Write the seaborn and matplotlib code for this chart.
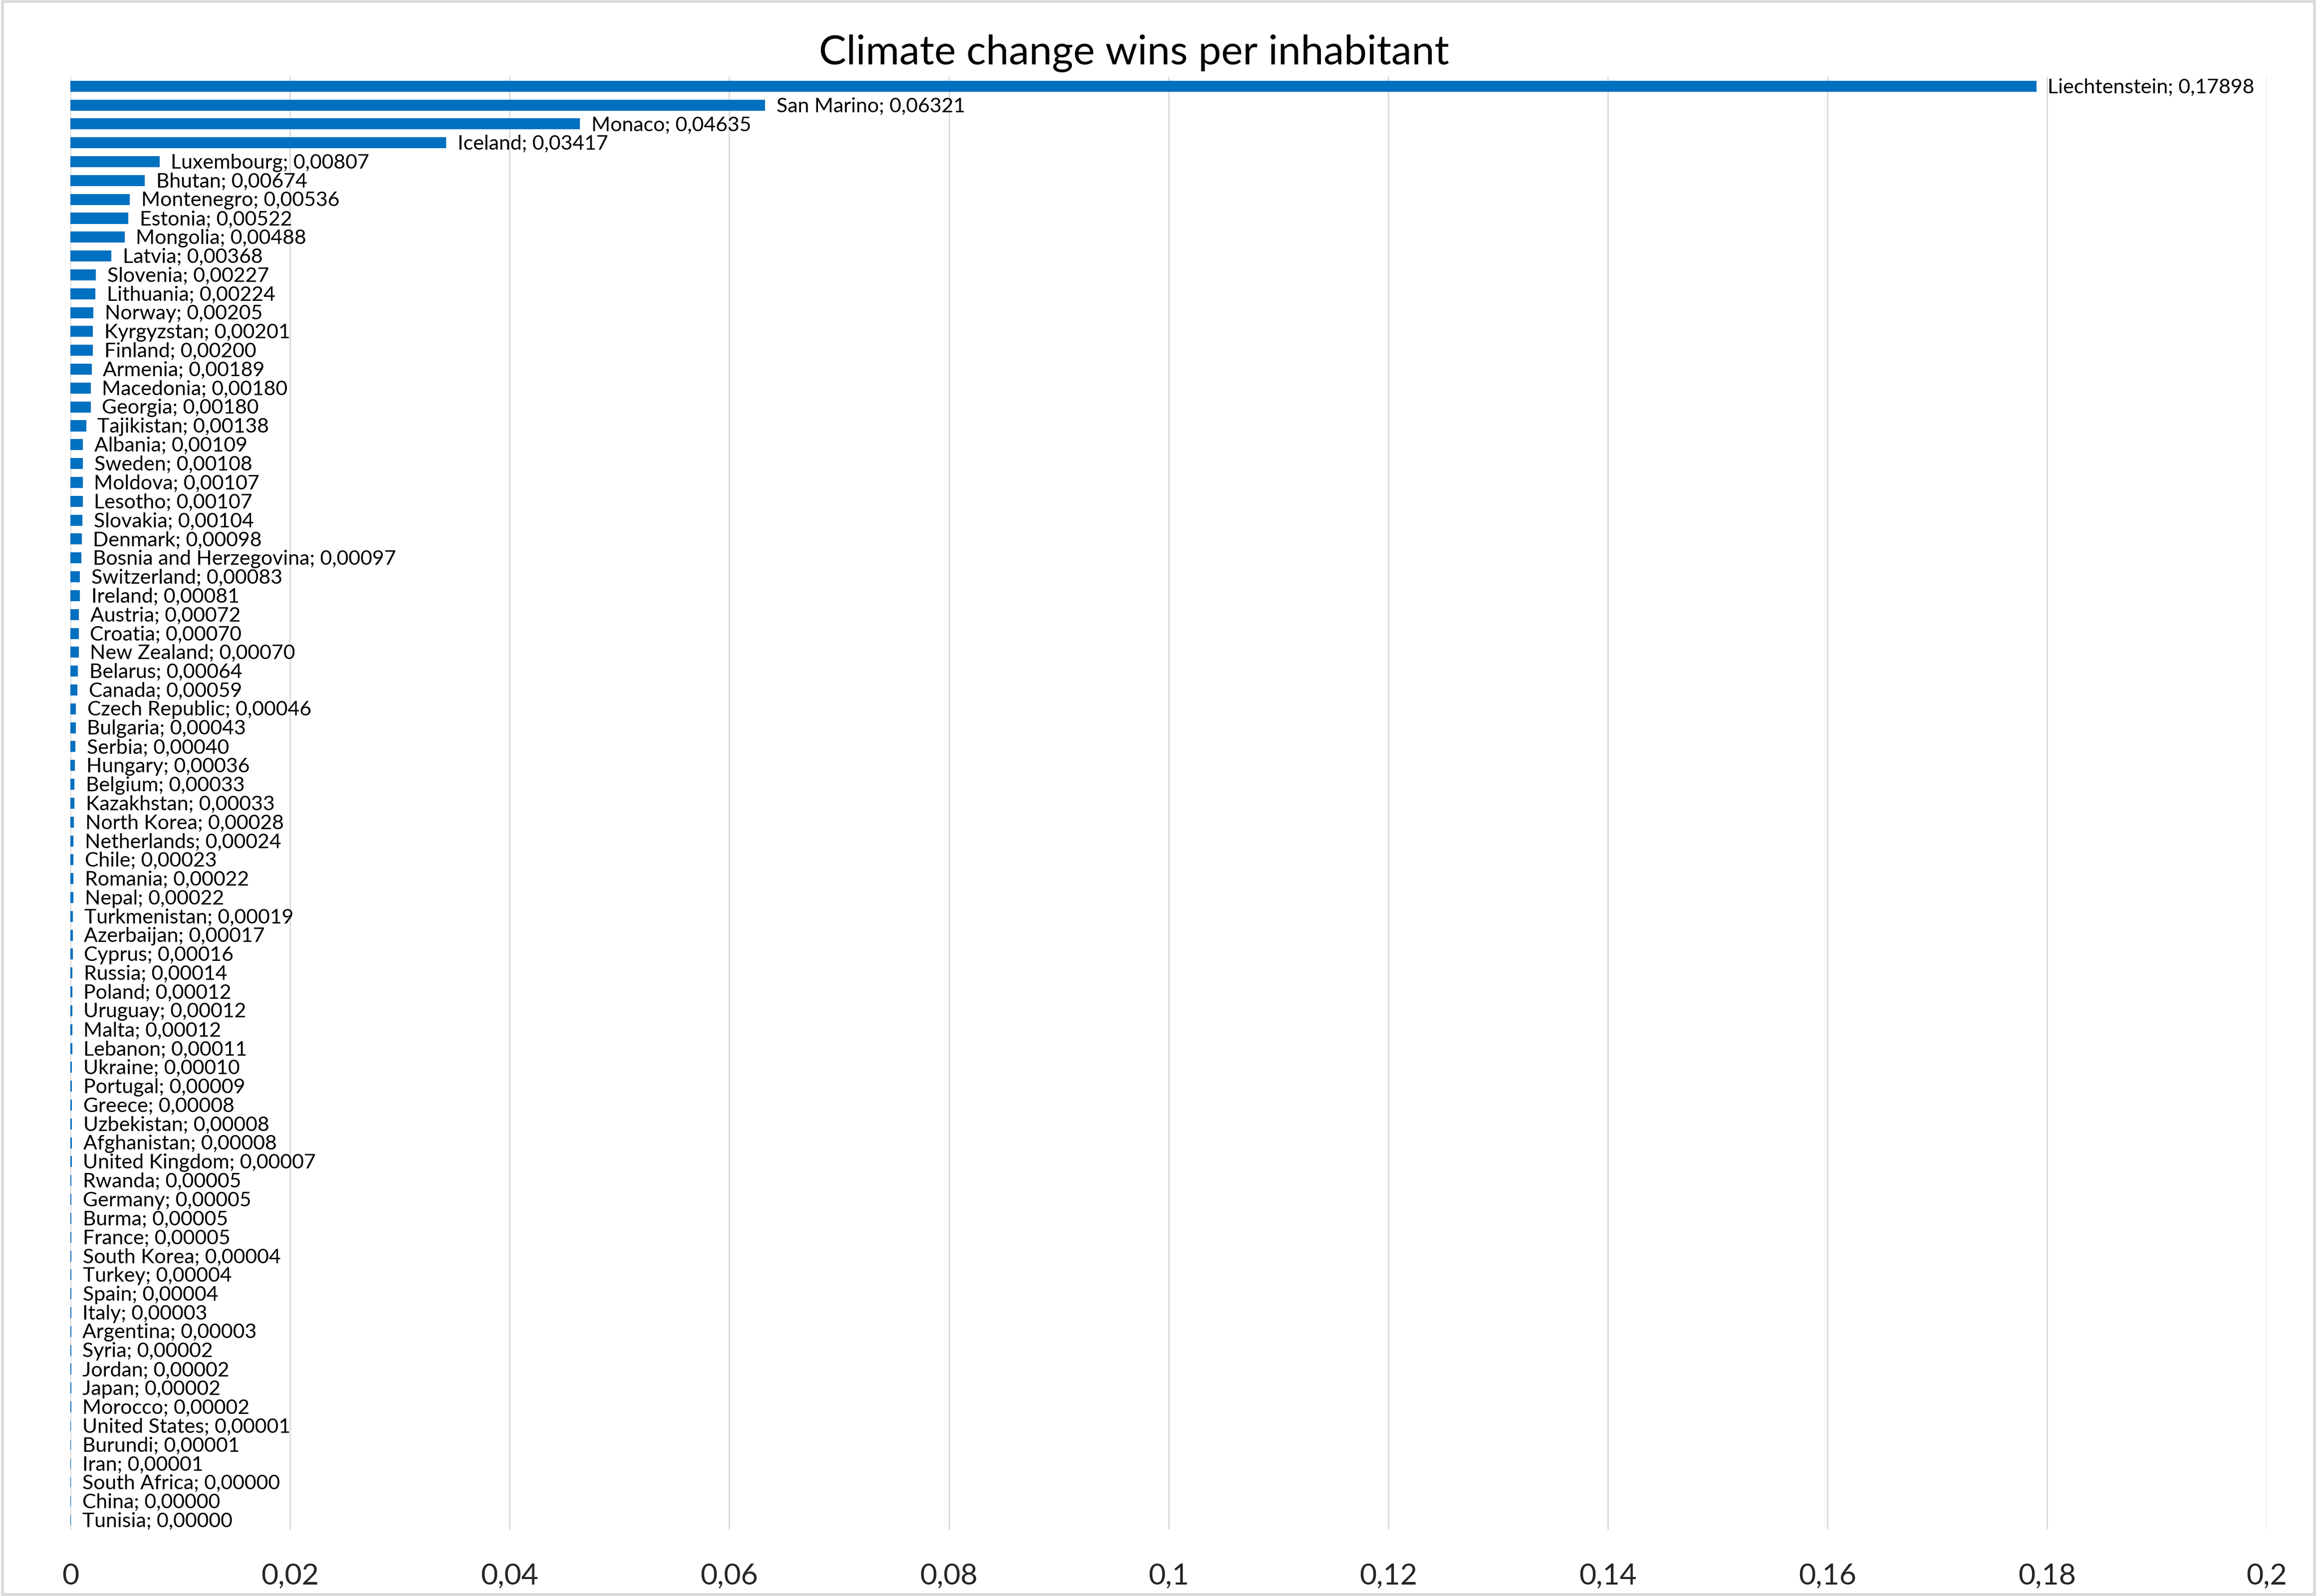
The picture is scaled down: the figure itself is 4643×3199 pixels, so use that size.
import numpy as np
import pandas as pd
import seaborn as sns
import matplotlib.pyplot as plt
from matplotlib.patches import Rectangle

countries = ["Liechtenstein", "San Marino", "Monaco", "Iceland", "Luxembourg", "Bhutan",
             "Montenegro", "Estonia", "Mongolia", "Latvia", "Slovenia", "Lithuania",
             "Norway", "Kyrgyzstan", "Finland", "Armenia", "Macedonia", "Georgia",
             "Tajikistan", "Albania", "Sweden", "Moldova", "Lesotho", "Slovakia",
             "Denmark", "Bosnia and Herzegovina", "Switzerland", "Ireland", "Austria",
             "Croatia", "New Zealand", "Belarus", "Canada", "Czech Republic", "Bulgaria",
             "Serbia", "Hungary", "Belgium", "Kazakhstan", "North Korea", "Netherlands",
             "Chile", "Romania", "Nepal", "Turkmenistan", "Azerbaijan", "Cyprus",
             "Russia", "Poland", "Uruguay", "Malta", "Lebanon", "Ukraine", "Portugal",
             "Greece", "Uzbekistan", "Afghanistan", "United Kingdom", "Rwanda",
             "Germany", "Burma", "France", "South Korea", "Turkey", "Spain", "Italy",
             "Argentina", "Syria", "Jordan", "Japan", "Morocco", "United States",
             "Burundi", "Iran", "South Africa", "China", "Tunisia"]

wins_per_inhabitant = [0.17898, 0.06321, 0.04635, 0.03417, 0.00807, 0.00674,
                       0.00536, 0.00522, 0.00488, 0.00368, 0.00227, 0.00224,
                       0.00205, 0.00201, 0.00200, 0.00189, 0.00180, 0.00180,
                       0.00138, 0.00109, 0.00108, 0.00107, 0.00107, 0.00104,
                       0.00098, 0.00097, 0.00083, 0.00081, 0.00072,
                       0.00070, 0.00070, 0.00064, 0.00059, 0.00046, 0.00043,
                       0.00040, 0.00036, 0.00033, 0.00033, 0.00028, 0.00024,
                       0.00023, 0.00022, 0.00022, 0.00019, 0.00017, 0.00016,
                       0.00014, 0.00012, 0.00012, 0.00012, 0.00011, 0.00010, 0.00009,
                       0.00008, 0.00008, 0.00008, 0.00007, 0.00005,
                       0.00005, 0.00005, 0.00005, 0.00004, 0.00004, 0.00004, 0.00003,
                       0.00003, 0.00002, 0.00002, 0.00002, 0.00002, 0.00001,
                       0.00001, 0.00001, 0.00000, 0.00000, 0.00000]

x_ticks = [0, 0.02, 0.04, 0.06, 0.08, 0.1, 0.12, 0.14, 0.16, 0.18, 0.2]

df = pd.DataFrame({"country": countries, "wins": wins_per_inhabitant})

sns.set_style("white")
plt.rcParams["font.family"] = ["Lato", "DejaVu Sans"]

fig = plt.figure(figsize=(46.43, 31.99), dpi=100)
ax = fig.add_axes([0.0304, 0.0416, 0.9479, 0.9103])

sns.barplot(data=df, x="wins", y="country", color="#0070C0", width=0.53,
            edgecolor="#0070C0", linewidth=1.5, saturation=1, ax=ax)

for i, v in enumerate(wins_per_inhabitant):
    label = f"{countries[i]}; {v:.5f}".replace(".", ",")
    ax.annotate(label, (v, i), xytext=(17, -1.5), textcoords="offset points",
                va="center", ha="left", fontsize=29.5, color="black")

ax.set_xlim(0, 0.2)
ax.set_ylim(len(countries) - 0.5, -0.5)
ax.set_xticks(x_ticks)
ax.set_xticklabels([f"{t:g}".replace(".", ",") for t in x_ticks], fontsize=42.5)
ax.set_yticks([])
ax.set_xlabel("")
ax.set_ylabel("")
ax.tick_params(axis="x", length=0, pad=48)
ax.xaxis.grid(True, color="#D9D9D9", linewidth=2)
ax.set_axisbelow(True)
for s in ax.spines.values():
    s.set_visible(False)

fig.text(0.4895, 0.9665, "Climate change wins per inhabitant", ha="center", va="center",
         fontsize=59, color="black")

fig.patches.append(Rectangle((0.001, 0.001), 0.998, 0.998, transform=fig.transFigure,
                             fill=False, edgecolor="#D9D9D9", linewidth=4))

fig.savefig("out.png", dpi=100)
